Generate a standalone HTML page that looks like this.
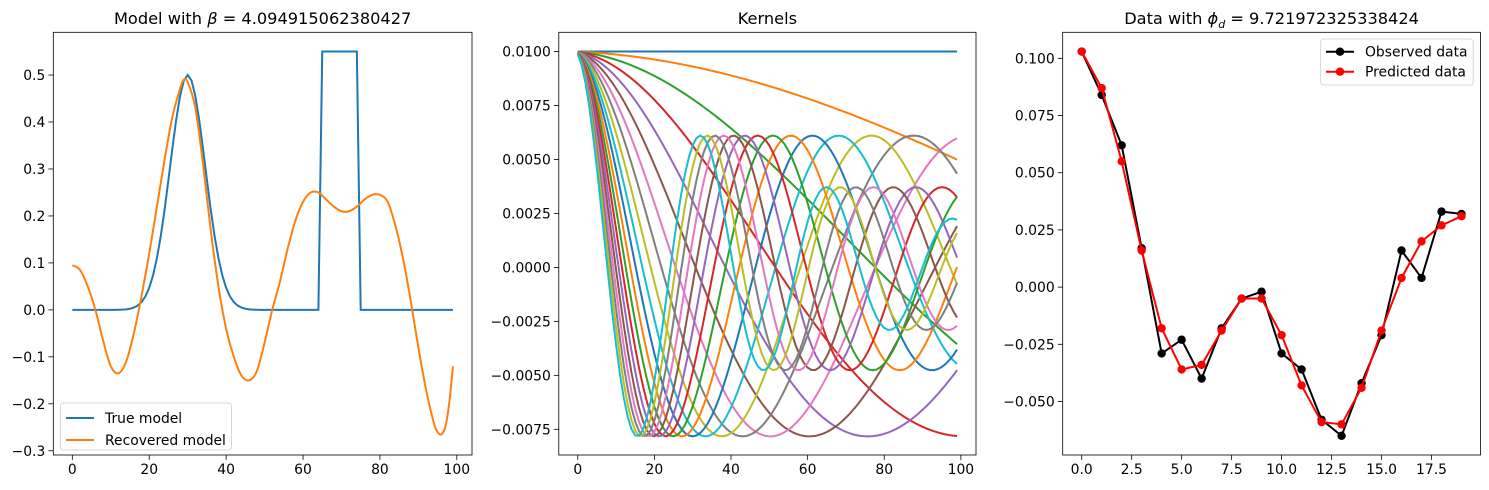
<!DOCTYPE html>
<html><head><meta charset="utf-8"><style>
html,body{margin:0;padding:0;background:#fff;}
svg{display:block;font-family:"DejaVu Sans","Liberation Sans",sans-serif;}
</style></head><body>
<svg id="fig" width="1489" height="490" viewBox="0 0 1489 490" xmlns="http://www.w3.org/2000/svg"></svg>
<script>
// ---- data ----
const modelIdx = [0,2,4,6,8,10,12,14,16,18,20,22,24,26,28,29,30,32,34,36,38,40,42,44,46,48,50,52,54,56,58,60,62,64,66,68,70,72,74,76,78,80,82,84,86,88,90,92,94,95,96,97,98,99];
const recovered = [0.095,0.085,0.05,0.0,-0.065,-0.12,-0.135,-0.11,-0.05,0.03,0.12,0.22,0.32,0.41,0.47,0.49,0.485,0.43,0.31,0.17,0.05,-0.04,-0.1,-0.14,-0.15,-0.13,-0.07,0.0,0.06,0.13,0.19,0.23,0.25,0.25,0.235,0.22,0.21,0.21,0.22,0.235,0.245,0.245,0.23,0.18,0.11,0.02,-0.08,-0.17,-0.24,-0.26,-0.265,-0.25,-0.2,-0.12];
const gaussCenter = [30], gaussAmp = [0.5], gaussSigma = [4.6];
const boxStart = [65], boxEnd = [74], boxHeight = [0.55];
const kernelFreq = [0,0.01005,0.0201,0.03015,0.0402,0.05025,0.0603,0.07035,0.0804,0.09045,0.1005,0.11055,0.1206,0.13065,0.1407,0.15075,0.1608,0.17085,0.1809,0.19095];
const kernelDecay = [0.079];
const kernelAmp = [0.01];
const dataIdx = [0,1,2,3,4,5,6,7,8,9,10,11,12,13,14,15,16,17,18,19];
const observed = [0.103,0.084,0.062,0.017,-0.029,-0.023,-0.040,-0.018,-0.005,-0.002,-0.029,-0.036,-0.058,-0.065,-0.042,-0.021,0.016,0.004,0.033,0.032];
const predicted = [0.103,0.087,0.055,0.016,-0.018,-0.036,-0.034,-0.019,-0.005,-0.005,-0.021,-0.043,-0.059,-0.060,-0.044,-0.019,0.004,0.020,0.027,0.031];
const ticks1x = [0,20,40,60,80,100], ticks1y = [-0.3,-0.2,-0.1,0,0.1,0.2,0.3,0.4,0.5];
const ticks2x = [0,20,40,60,80,100], ticks2y = [-0.0075,-0.005,-0.0025,0,0.0025,0.005,0.0075,0.01];
const ticks3x = [0,2.5,5,7.5,10,12.5,15,17.5], ticks3y = [-0.05,-0.025,0,0.025,0.05,0.075,0.1];
const tab10 = ['#1f77b4','#ff7f0e','#2ca02c','#d62728','#9467bd','#8c564b','#e377c2','#7f7f7f','#bcbd22','#17becf'];

const NS='http://www.w3.org/2000/svg';
const svg=document.getElementById('fig');
const LW=2;
function mk(tag,attrs,parent){const e=document.createElementNS(NS,tag);for(const k in attrs)e.setAttribute(k,attrs[k]);(parent||svg).appendChild(e);return e;}
const TOP=32.3,BOT=455;
function axes(L,R,xmin,xmax,ymin,ymax){return {L,R,x:v=>L+(v-xmin)/(xmax-xmin)*(R-L),y:v=>BOT-(v-ymin)/(ymax-ymin)*(BOT-TOP)};}
function pathD(pts){return pts.map((p,i)=>(i?'L':'M')+p[0].toFixed(2)+','+p[1].toFixed(2)).join('');}
function smooth(pts){let d='M'+pts[0][0]+','+pts[0][1];for(let i=0;i<pts.length-1;i++){const p0=pts[Math.max(0,i-1)],p1=pts[i],p2=pts[i+1],p3=pts[Math.min(pts.length-1,i+2)];const c1=[p1[0]+(p2[0]-p0[0])/6,p1[1]+(p2[1]-p0[1])/6],c2=[p2[0]-(p3[0]-p1[0])/6,p2[1]-(p3[1]-p1[1])/6];d+='C'+c1.join(',')+' '+c2.join(',')+' '+p2.join(',');}return d;}
function frame(ax,name,tx,ty,fmtx,fmty,title){
  const g=mk('g',{});
  tx.forEach(t=>{const X=ax.x(t);const tk=mk('line',{x1:X,x2:X,y1:BOT,y2:BOT+4.9,stroke:'#000','stroke-width':0.8},g);
    const l=mk('text',{x:X,y:BOT+19,'font-size':13.9,'text-anchor':'middle'},g);l.textContent=fmtx(t);});
  ty.forEach(t=>{const Y=ax.y(t);const tk=mk('line',{x1:ax.L-4.9,x2:ax.L,y1:Y,y2:Y,stroke:'#000','stroke-width':0.8},g);
    const l=mk('text',{x:ax.L-8,y:Y+5,'font-size':13.9,'text-anchor':'end'},g);l.textContent=fmty(t).replace('-','\u2212');});
  const t=mk('text',{x:(ax.L+ax.R)/2,y:24,'font-size':16.2,'text-anchor':'middle'},g);t.innerHTML=title;
  return g;
}
function border(ax){const r=mk('rect',{x:ax.L,y:TOP,width:ax.R-ax.L,height:BOT-TOP,fill:'none',stroke:'#000','stroke-width':0.8});}

// ---- panel 1 ----
const a1=axes(53.3,472,-4.95,103.95,-0.309,0.591);
frame(a1,'model-panel',ticks1x,ticks1y,v=>String(v),v=>v.toFixed(1),'Model with <tspan font-style="italic">β</tspan> = 4.094915062380427');
const clip1=mk('clipPath',{id:'c1'});mk('rect',{x:a1.L,y:TOP,width:a1.R-a1.L,height:BOT-TOP},clip1);
const truePts=[];
for(let i=0;i<100;i++){let v=gaussAmp[0]*Math.exp(-Math.pow(i-gaussCenter[0],2)/(2*gaussSigma[0]*gaussSigma[0]));if(i>=boxStart[0]&&i<=boxEnd[0])v=boxHeight[0];truePts.push([a1.x(i),a1.y(v)]);}
const tl=mk('path',{d:pathD(truePts),fill:'none',stroke:tab10[0],'stroke-width':LW,'clip-path':'url(#c1)'});

const rl=mk('path',{d:smooth(modelIdx.map((x,i)=>[a1.x(x),a1.y(recovered[i])])),fill:'none',stroke:tab10[1],'stroke-width':LW,'clip-path':'url(#c1)'});

border(a1);
const lg1=mk('g',{});
mk('rect',{x:60.5,y:403,width:171,height:47,rx:3,fill:'#fff','fill-opacity':0.8,stroke:'#ccc','stroke-width':0.8},lg1);
[['True model',tab10[0],418],['Recovered model',tab10[1],440]].forEach(([lab,c,y])=>{const e=mk('g',{},lg1);
  mk('line',{x1:66,x2:94,y1:y,y2:y,stroke:c,'stroke-width':LW},e);const t=mk('text',{x:105,y:y+5,'font-size':13.9},e);t.textContent=lab;});

// ---- panel 2 ----
const a2=axes(558.8,976,-4.95,103.95,-0.00869,0.01089);
frame(a2,'kernels-panel',ticks2x,ticks2y,v=>String(v),v=>v.toFixed(4),'Kernels');
kernelFreq.forEach((f,k)=>{const pts=[];for(let i=0;i<100;i++){const t=f*(i+0.5);pts.push([a2.x(i),a2.y(kernelAmp[0]*Math.exp(-kernelDecay[0]*t)*Math.cos(t))]);}
  const p=mk('path',{d:pathD(pts),fill:'none',stroke:tab10[k%10],'stroke-width':LW});});
border(a2);

// ---- panel 3 ----
const a3=axes(1062.7,1480.5,-0.95,19.95,-0.0734,0.1114);
frame(a3,'data-panel',ticks3x,ticks3y,v=>v.toFixed(1),v=>v.toFixed(3),'Data with <tspan font-style="italic">ϕ</tspan><tspan font-style="italic" font-size="11" dy="4">d</tspan><tspan dy="-4"> = 9.721972325338424</tspan>');
[[observed,'#000','observed-data'],[predicted,'#ff0000','predicted-data']].forEach(([arr,c,n])=>{
  const g=mk('g',{});
  mk('path',{d:pathD(dataIdx.map((x,i)=>[a3.x(x),a3.y(arr[i])])),fill:'none',stroke:c,'stroke-width':LW},g);
  dataIdx.forEach((x,i)=>{const m=mk('circle',{cx:a3.x(x),cy:a3.y(arr[i]),r:4.2,fill:c},g);});
});
border(a3);
const lg3=mk('g',{});
mk('rect',{x:1320.7,y:39,width:152.5,height:46,rx:3,fill:'#fff','fill-opacity':0.8,stroke:'#ccc','stroke-width':0.8},lg3);
[['Observed data','#000',51.7],['Predicted data','#ff0000',71.7]].forEach(([lab,c,y])=>{const e=mk('g',{},lg3);
  mk('line',{x1:1326,x2:1354,y1:y,y2:y,stroke:c,'stroke-width':LW},e);mk('circle',{cx:1340,cy:y,r:4.2,fill:c},e);const t=mk('text',{x:1365,y:y+5,'font-size':13.9},e);t.textContent=lab;});
</script>
</body></html>
